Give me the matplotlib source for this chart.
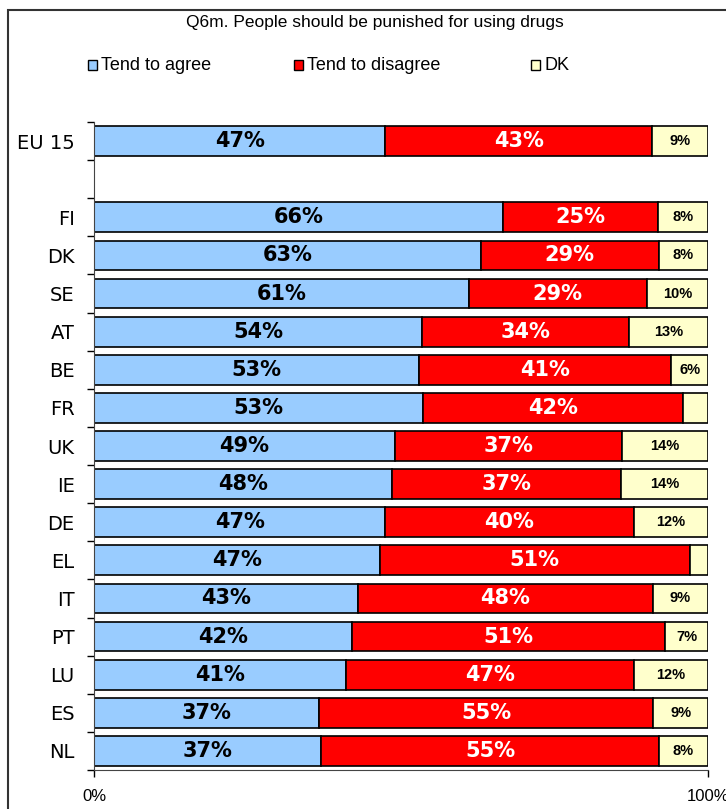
import numpy as np
import matplotlib
matplotlib.use("Agg")
import matplotlib.pyplot as plt
from matplotlib.patches import Rectangle

countries = ["EU 15", "", "FI", "DK", "SE", "AT", "BE", "FR", "UK", "IE", "DE",
             "EL", "IT", "PT", "LU", "ES", "NL"]
agree = [47, 0, 66, 63, 61, 54, 53, 53, 49, 48, 47, 47, 43, 42, 41, 37, 37]
disagree = [43, 0, 25, 29, 29, 34, 41, 42, 37, 37, 40, 51, 48, 51, 47, 55, 55]
dk = [9, 0, 8, 8, 10, 13, 6, 4, 14, 14, 12, 3, 9, 7, 12, 9, 8]
# DK shares under 5% are drawn but not labelled
dk_labelled = [v >= 5 for v in dk]

col_agree = "#99ccff"
col_dis = "#ff0000"
col_dk = "#ffffcc"
arial = "Liberation Sans"

W, H = 726, 809
fig = plt.figure(figsize=(W / 100, H / 100), dpi=100)
ax = fig.add_axes([94 / W, 1 - 770 / H, 614 / W, 648 / H])

agree = np.array(agree, float)
disagree = np.array(disagree, float)
dk = np.array(dk, float)
tot = agree + disagree + dk
tot[tot == 0] = 1
pa, pd, pk = agree / tot, disagree / tot, dk / tot

y = np.arange(len(countries))
h = 0.78
show = np.array([c != "" for c in countries])
kw = dict(height=h, edgecolor="black", linewidth=1.2)
ax.barh(y[show], pa[show], color=col_agree, **kw)
ax.barh(y[show], pd[show], left=pa[show], color=col_dis, **kw)
ax.barh(y[show], pk[show], left=(pa + pd)[show], color=col_dk, **kw)

for i in y[show]:
    ax.text(pa[i] / 2, i, f"{agree[i]:.0f}%", ha="center", va="center",
            fontsize=15, fontweight="bold", color="black")
    ax.text(pa[i] + pd[i] / 2, i, f"{disagree[i]:.0f}%", ha="center", va="center",
            fontsize=15, fontweight="bold", color="white")
    if dk_labelled[i]:
        ax.text(pa[i] + pd[i] + pk[i] / 2, i, f"{dk[i]:.0f}%", ha="center",
                va="center", fontsize=10.5, fontweight="bold", color="black",
                family=arial)

ax.set_ylim(len(countries) - 0.5, -0.5)
ax.set_xlim(0, 1)
ax.set_yticks(y)
ax.set_yticklabels(countries, fontsize=14)
ax.set_yticks(np.arange(len(countries) + 1) - 0.5, minor=True)
ax.tick_params(axis="y", which="major", length=0, pad=14)
ax.tick_params(axis="y", which="minor", length=5, width=1)
ax.set_xticks([0, 1])
ax.set_xticklabels(["0%", "100%"], fontsize=12, family=arial)
ax.tick_params(axis="x", length=5, width=1, pad=9)
for s in ["top", "right"]:
    ax.spines[s].set_visible(False)
ax.spines["left"].set_color("#444444")
ax.spines["bottom"].set_color("#444444")

fig.text(375 / W, 1 - 22 / H, "Q6m. People should be punished for using drugs",
         ha="center", va="center", fontsize=12.5, family=arial)
legend_items = [(col_agree, "Tend to agree", 88), (col_dis, "Tend to disagree", 294),
                (col_dk, "DK", 531)]
for c, lab, x in legend_items:
    fig.patches.append(Rectangle((x / W, 1 - 70 / H), 9 / W, 10 / H,
                                 transform=fig.transFigure, facecolor=c,
                                 edgecolor="black", linewidth=1))
    fig.text((x + 13) / W, 1 - 65 / H, lab, ha="left", va="center",
             fontsize=13, family=arial)

# outer frame of the chart area
fig.patches.append(Rectangle((8 / W, -0.1), 1.2, 1 - 10 / H + 0.1,
                             transform=fig.transFigure, fill=False,
                             edgecolor="#333333", linewidth=1.5))

fig.savefig("out.png", dpi=100)
